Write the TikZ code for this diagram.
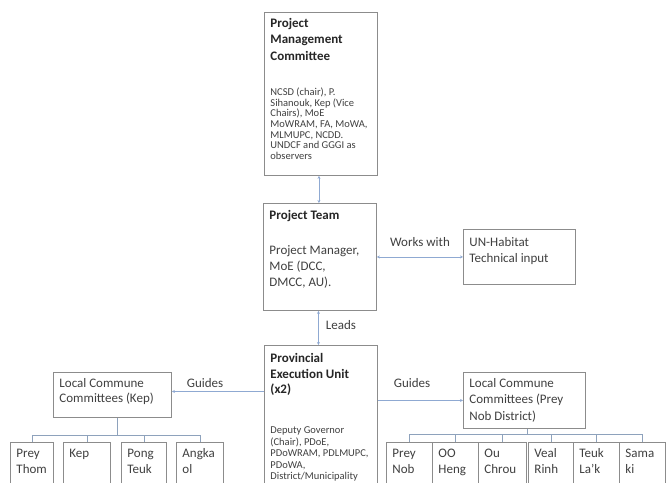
\documentclass[tikz,border=0pt]{standalone}
\usepackage{fontspec}
\setmainfont{Carlito}
\usetikzlibrary{arrows.meta,calc}
\definecolor{boxc}{HTML}{8C8C8C}
\definecolor{arrc}{HTML}{8FA9D2}
\definecolor{treec}{HTML}{8EA2BC}
\definecolor{titlec}{HTML}{262626}
\definecolor{bodyc}{HTML}{404040}
\newcommand{\ttlf}[1][16.5]{\fontsize{13}{#1}\selectfont\bfseries\color{titlec}}
\newcommand{\bodyl}[1][16]{\fontsize{13}{#1}\selectfont\color{bodyc}}
\newcommand{\bodys}[1][10.7]{\fontsize{10.5}{#1}\selectfont\color{bodyc}}
\newcommand{\bx}[4]{\begin{minipage}[t][#2][t]{#1}\lineskiplimit=-100pt\leftskip=6pt\rightskip=0pt plus 1fil\parindent=0pt\vspace*{#3}\rule{0pt}{10pt}#4\par\end{minipage}}
\tikzset{
  x=1pt, y=-1pt,
  boxn/.style={draw=boxc, line width=0.9pt, inner sep=0pt, anchor=north west},
  arr/.style={draw=arrc, line width=0.9pt, >={Stealth[length=3pt,width=3pt]}},
  tree/.style={draw=treec, line width=0.9pt},
  lbl/.style={font=\fontsize{13}{16}\selectfont, text=bodyc, inner sep=0pt}
}
\begin{document}
\begin{tikzpicture}
\useasboundingbox (0,0) rectangle (666,482);
\clip (0,0) rectangle (666,482);
\fill[white] (0,0) rectangle (666,482);

% main column
\node[boxn] (pmc) at (264,12) {\bx{113pt}{163pt}{5pt}{{\ttlf Project\\Management\\Committee\par}\vspace{24.3pt}{\bodys NCSD (chair), P.\\Sihanouk, Kep (Vice\\Chairs), MoE\\MoWRAM, FA, MoWA,\\MLMUPC, NCDD.\\UNDCF and GGGI as\\observers\par}}};
\node[boxn] (pt) at (263,203) {\bx{113pt}{107pt}{6pt}{{\ttlf Project Team\par}\vspace{19pt}{\bodyl Project Manager,\\MoE (DCC,\\DMCC, AU).\par}}};
\node[boxn] (un) at (463,229) {\bx{112pt}{55pt}{7pt}{{\bodyl UN-Habitat\\Technical input\par}}};
\node[boxn] (peu) at (264,345) {\bx{113pt}{150pt}{7.5pt}{{\ttlf[15.5] Provincial\\Execution Unit\\(x2)\par}\vspace{28.5pt}{\bodys[11.5] Deputy Governor\\(Chair), PDoE,\\PDoWRAM, PDLMUPC,\\PDoWA,\\District/Municipality\par}}};

% local commune committees
\node[boxn] (lcck) at (53,372) {\bx{118pt}{45pt}{5pt}{{\bodyl[15.5] Local Commune\\Committees (Kep)\par}}};
\node[boxn] (lccp) at (463,372) {\bx{122pt}{56pt}{5pt}{{\bodyl[16.5] Local Commune\\Committees (Prey\\Nob District)\par}}};

% communes (Kep)
\node[boxn] (c1) at (10,442) {\bx{43pt}{50pt}{5pt}{{\bodyl Prey\\Thom\par}}};
\node[boxn] (c2) at (63,442) {\bx{47pt}{50pt}{5pt}{{\bodyl Kep\par}}};
\node[boxn] (c3) at (121,442) {\bx{45pt}{50pt}{5pt}{{\bodyl Pong\\Teuk\par}}};
\node[boxn] (c4) at (176,442) {\bx{47pt}{50pt}{5pt}{{\bodyl Angka\\ol\par}}};

% communes (Prey Nob)
\node[boxn] (d1) at (386,442) {\bx{46pt}{50pt}{5pt}{{\bodyl Prey\\Nob\par}}};
\node[boxn] (d2) at (432,442) {\bx{46pt}{50pt}{5pt}{{\bodyl OO\\Heng\par}}};
\node[boxn] (d3) at (478,442) {\bx{48pt}{50pt}{5pt}{{\bodyl Ou\\Chrou\par}}};
\node[boxn] (d4) at (528,442) {\bx{45pt}{50pt}{5pt}{{\bodyl Veal\\Rinh\par}}};
\node[boxn] (d5) at (573,442) {\bx{46pt}{50pt}{5pt}{{\bodyl Teuk\\La’k\par}}};
\node[boxn] (d6) at (619,442) {\bx{46pt}{50pt}{5pt}{{\bodyl Sama\\ki\par}}};

% arrows
\draw[arr, <->] ([xshift=-2pt]pmc.south) -- ([xshift=-2pt]pmc.south |- pt.north);
\draw[arr, <->] (pt.east) -- (pt.east -| un.west);
\draw[arr, <->] ([xshift=-1.5pt]pt.south) -- ([xshift=-1.5pt]pt.south |- peu.north);
\draw[arr, ->] ([yshift=3.5pt]lcck.east -| peu.west) -- ([yshift=3.5pt]lcck.east);
\draw[arr, ->] (lccp.west -| peu.east) -- (lccp.west);

% labels
\node[lbl] (lw) at (420,242) {Works with};
\node[lbl] (ll) at (341,325) {Leads};
\node[lbl] (lg1) at (205,383) {Guides};
\node[lbl] (lg2) at (412,383) {Guides};

% trees
\foreach \c in {c1,c2,c3,c4}
  \draw[tree] ([xshift=5pt]lcck.south) -- ++(0,18) -| (\c.north);
\foreach \c in {d1,d2,d3,d4,d5,d6}
  \draw[tree] ([xshift=3pt]lccp.south) -- ++(0,6) -| (\c.north);
\end{tikzpicture}
\end{document}
